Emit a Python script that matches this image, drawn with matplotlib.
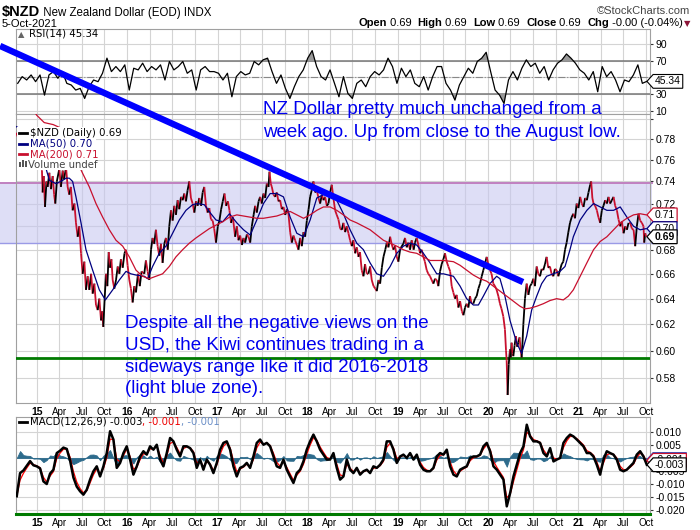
import matplotlib
matplotlib.use('Agg')
import matplotlib.pyplot as plt
import matplotlib.dates as mdates
import matplotlib.transforms as mtransforms
import matplotlib.ticker as mticker
from matplotlib.collections import LineCollection
from matplotlib.patches import Rectangle
from matplotlib.lines import Line2D
from matplotlib.path import Path
import numpy as np
import pandas as pd

plt.rcParams['font.family'] = ['Liberation Sans', 'DejaVu Sans']

# ---------------- data ----------------
price_t = [2014.77, 2014.80, 2014.83, 2014.86, 2014.90, 2014.94, 2014.97, 2015.00, 2015.03, 2015.055,
           2015.063, 2015.075, 2015.089, 2015.105, 2015.118, 2015.137, 2015.155, 2015.174, 2015.190, 2015.203,
           2015.220, 2015.248, 2015.265, 2015.285, 2015.300, 2015.322, 2015.340, 2015.358, 2015.375, 2015.395,
           2015.415, 2015.432, 2015.451, 2015.469, 2015.488, 2015.506, 2015.525, 2015.543, 2015.562, 2015.580,
           2015.600, 2015.617, 2015.636, 2015.654, 2015.673, 2015.691, 2015.710, 2015.722, 2015.735, 2015.750,
           2015.765, 2015.780, 2015.795, 2015.810, 2015.825, 2015.839, 2015.857, 2015.876, 2015.895, 2015.913,
           2015.930, 2015.950, 2015.970, 2015.987, 2016.005, 2016.024, 2016.042, 2016.061, 2016.080, 2016.098,
           2016.120, 2016.140, 2016.160, 2016.190, 2016.208, 2016.227, 2016.245, 2016.265, 2016.282, 2016.300,
           2016.319, 2016.338, 2016.356, 2016.375, 2016.393, 2016.412, 2016.430, 2016.450, 2016.467, 2016.486,
           2016.504, 2016.523, 2016.541, 2016.560, 2016.578, 2016.597, 2016.615, 2016.633, 2016.652, 2016.670,
           2016.689, 2016.707, 2016.726, 2016.745, 2016.763, 2016.781, 2016.800, 2016.820, 2016.837, 2016.855,
           2016.874, 2016.892, 2016.911, 2016.929, 2016.948, 2016.965, 2016.985, 2017.003, 2017.021, 2017.040,
           2017.058, 2017.077, 2017.095, 2017.115, 2017.132, 2017.150, 2017.170, 2017.195, 2017.214, 2017.232,
           2017.251, 2017.270, 2017.288, 2017.306, 2017.325, 2017.343, 2017.362, 2017.380, 2017.400, 2017.417,
           2017.435, 2017.455, 2017.472, 2017.490, 2017.509, 2017.528, 2017.546, 2017.565, 2017.576, 2017.590,
           2017.602, 2017.620, 2017.639, 2017.657, 2017.675, 2017.694, 2017.712, 2017.731, 2017.750, 2017.770,
           2017.786, 2017.805, 2017.823, 2017.842, 2017.860, 2017.879, 2017.897, 2017.915, 2017.934, 2017.953,
           2017.971, 2017.990, 2018.010, 2018.027, 2018.045, 2018.064, 2018.082, 2018.101, 2018.120, 2018.138,
           2018.157, 2018.175, 2018.193, 2018.212, 2018.230, 2018.249, 2018.267, 2018.285, 2018.304, 2018.322,
           2018.341, 2018.360, 2018.378, 2018.396, 2018.415, 2018.433, 2018.452, 2018.470, 2018.489, 2018.507,
           2018.526, 2018.544, 2018.563, 2018.580, 2018.599, 2018.618, 2018.636, 2018.655, 2018.673, 2018.692,
           2018.710, 2018.730, 2018.750, 2018.766, 2018.785, 2018.803, 2018.822, 2018.840, 2018.860, 2018.877,
           2018.895, 2018.914, 2018.930, 2018.950, 2018.969, 2018.988, 2019.006, 2019.025, 2019.043, 2019.061,
           2019.080, 2019.098, 2019.117, 2019.135, 2019.154, 2019.175, 2019.190, 2019.209, 2019.228, 2019.246,
           2019.265, 2019.283, 2019.300, 2019.320, 2019.338, 2019.357, 2019.375, 2019.394, 2019.412, 2019.431,
           2019.449, 2019.468, 2019.486, 2019.505, 2019.523, 2019.542, 2019.560, 2019.580, 2019.597, 2019.615,
           2019.634, 2019.652, 2019.671, 2019.690, 2019.710, 2019.727, 2019.745, 2019.763, 2019.782, 2019.800,
           2019.818, 2019.837, 2019.855, 2019.874, 2019.893, 2019.911, 2019.930, 2019.948, 2019.965, 2019.985,
           2020.003, 2020.022, 2020.040, 2020.059, 2020.078, 2020.096, 2020.115, 2020.133, 2020.150, 2020.170,
           2020.188, 2020.200, 2020.207, 2020.218, 2020.230, 2020.244, 2020.252, 2020.262, 2020.272, 2020.281,
           2020.295, 2020.310, 2020.322, 2020.336, 2020.350, 2020.362, 2020.373, 2020.382, 2020.392, 2020.410,
           2020.429, 2020.448, 2020.466, 2020.484, 2020.503, 2020.520, 2020.540, 2020.558, 2020.577, 2020.595,
           2020.613, 2020.632, 2020.650, 2020.668, 2020.687, 2020.705, 2020.724, 2020.742, 2020.761, 2020.780,
           2020.798, 2020.817, 2020.835, 2020.854, 2020.872, 2020.891, 2020.909, 2020.928, 2020.946, 2020.965,
           2020.983, 2021.000, 2021.020, 2021.038, 2021.057, 2021.075, 2021.094, 2021.112, 2021.131, 2021.142,
           2021.155, 2021.168, 2021.186, 2021.205, 2021.222, 2021.242, 2021.250, 2021.260, 2021.278, 2021.297,
           2021.316, 2021.334, 2021.352, 2021.371, 2021.390, 2021.408, 2021.427, 2021.445, 2021.464, 2021.482,
           2021.501, 2021.520, 2021.538, 2021.556, 2021.575, 2021.593, 2021.612, 2021.630, 2021.648, 2021.667,
           2021.685, 2021.704, 2021.722, 2021.730, 2021.741, 2021.752]
price_v = [0.786, 0.779, 0.776, 0.788, 0.779, 0.785, 0.776, 0.781, 0.762, 0.750,
           0.730, 0.745, 0.717, 0.740, 0.735, 0.748, 0.733, 0.745, 0.728, 0.720,
           0.740, 0.752, 0.735, 0.750, 0.742, 0.753, 0.735, 0.728, 0.735, 0.714,
           0.720, 0.703, 0.691, 0.700, 0.677, 0.660, 0.670, 0.647, 0.658, 0.647,
           0.660, 0.644, 0.652, 0.635, 0.631, 0.640, 0.623, 0.630, 0.618, 0.640,
           0.660, 0.650, 0.678, 0.665, 0.672, 0.655, 0.648, 0.655, 0.666, 0.660,
           0.672, 0.665, 0.677, 0.680, 0.667, 0.655, 0.648, 0.637, 0.650, 0.645,
           0.660, 0.650, 0.662, 0.660, 0.671, 0.662, 0.655, 0.680, 0.690, 0.685,
           0.697, 0.683, 0.675, 0.685, 0.669, 0.685, 0.690, 0.680, 0.700, 0.714,
           0.705, 0.718, 0.710, 0.723, 0.715, 0.726, 0.723, 0.729, 0.722, 0.732,
           0.740, 0.725, 0.720, 0.712, 0.722, 0.718, 0.725, 0.718, 0.730, 0.735,
           0.718, 0.712, 0.716, 0.706, 0.705, 0.698, 0.686, 0.700, 0.705, 0.715,
           0.722, 0.729, 0.718, 0.722, 0.714, 0.703, 0.708, 0.691, 0.700, 0.688,
           0.692, 0.684, 0.690, 0.686, 0.693, 0.691, 0.686, 0.700, 0.710, 0.718,
           0.712, 0.722, 0.726, 0.720, 0.729, 0.725, 0.738, 0.735, 0.749, 0.738,
           0.735, 0.728, 0.726, 0.730, 0.722, 0.723, 0.715, 0.717, 0.710, 0.715,
           0.711, 0.695, 0.686, 0.692, 0.688, 0.684, 0.680, 0.690, 0.683, 0.695,
           0.691, 0.705, 0.715, 0.726, 0.732, 0.740, 0.730, 0.732, 0.725, 0.720,
           0.728, 0.723, 0.726, 0.718, 0.720, 0.730, 0.737, 0.725, 0.714, 0.710,
           0.706, 0.698, 0.697, 0.703, 0.695, 0.700, 0.694, 0.688, 0.683, 0.688,
           0.677, 0.682, 0.674, 0.678, 0.663, 0.658, 0.668, 0.660, 0.660, 0.666,
           0.655, 0.650, 0.648, 0.646, 0.655, 0.652, 0.665, 0.674, 0.680, 0.686,
           0.682, 0.691, 0.685, 0.680, 0.683, 0.674, 0.670, 0.680, 0.683, 0.685,
           0.690, 0.682, 0.686, 0.680, 0.688, 0.680, 0.686, 0.690, 0.684, 0.677,
           0.680, 0.674, 0.670, 0.663, 0.660, 0.658, 0.655, 0.652, 0.656, 0.655,
           0.650, 0.662, 0.668, 0.672, 0.677, 0.670, 0.666, 0.662, 0.650, 0.645,
           0.640, 0.643, 0.633, 0.638, 0.630, 0.627, 0.633, 0.636, 0.633, 0.642,
           0.636, 0.636, 0.640, 0.642, 0.648, 0.652, 0.658, 0.663, 0.668, 0.674,
           0.668, 0.663, 0.660, 0.652, 0.650, 0.647, 0.642, 0.636, 0.632, 0.626,
           0.616, 0.600, 0.593, 0.568, 0.590, 0.601, 0.595, 0.606, 0.598, 0.596,
           0.604, 0.611, 0.603, 0.606, 0.610, 0.601, 0.595, 0.605, 0.620, 0.640,
           0.652, 0.643, 0.650, 0.652, 0.656, 0.650, 0.666, 0.660, 0.658, 0.664,
           0.663, 0.668, 0.674, 0.665, 0.666, 0.660, 0.658, 0.664, 0.663, 0.658,
           0.663, 0.668, 0.670, 0.680, 0.686, 0.695, 0.703, 0.708, 0.711, 0.707,
           0.720, 0.716, 0.726, 0.720, 0.717, 0.725, 0.723, 0.730, 0.737, 0.740,
           0.725, 0.720, 0.718, 0.714, 0.708, 0.703, 0.708, 0.714, 0.718, 0.723,
           0.720, 0.726, 0.720, 0.723, 0.726, 0.718, 0.714, 0.706, 0.700, 0.704,
           0.694, 0.700, 0.697, 0.703, 0.703, 0.698, 0.697, 0.683, 0.700, 0.711,
           0.705, 0.703, 0.700, 0.686, 0.694, 0.691]

ma50_t = [2014.77, 2014.90, 2015.00, 2015.06, 2015.10, 2015.137, 2015.211, 2015.285, 2015.322, 2015.358,
          2015.395, 2015.432, 2015.488, 2015.543, 2015.617, 2015.691, 2015.758, 2015.839, 2015.913, 2015.987,
          2016.042, 2016.098, 2016.190, 2016.227, 2016.282, 2016.356, 2016.430, 2016.504, 2016.578, 2016.652,
          2016.726, 2016.781, 2016.855, 2016.929, 2016.985, 2017.058, 2017.132, 2017.214, 2017.288, 2017.362,
          2017.435, 2017.509, 2017.583, 2017.657, 2017.731, 2017.805, 2017.879, 2017.953, 2018.027, 2018.101,
          2018.175, 2018.249, 2018.322, 2018.396, 2018.470, 2018.544, 2018.618, 2018.692, 2018.766, 2018.840,
          2018.914, 2018.988, 2019.061, 2019.135, 2019.209, 2019.283, 2019.357, 2019.431, 2019.505, 2019.616,
          2019.690, 2019.763, 2019.837, 2019.893, 2019.948, 2020.022, 2020.096, 2020.133, 2020.188, 2020.244,
          2020.318, 2020.373, 2020.429, 2020.484, 2020.540, 2020.595, 2020.650, 2020.724, 2020.798, 2020.854,
          2020.909, 2020.946, 2021.020, 2021.094, 2021.168, 2021.242, 2021.316, 2021.390, 2021.464, 2021.538,
          2021.612, 2021.685, 2021.752]
ma50_v = [0.792, 0.786, 0.781, 0.768, 0.752, 0.741, 0.738, 0.741, 0.743, 0.743,
          0.740, 0.726, 0.703, 0.680, 0.663, 0.647, 0.639, 0.647, 0.655, 0.662,
          0.660, 0.659, 0.658, 0.656, 0.666, 0.677, 0.683, 0.694, 0.7055, 0.714,
          0.719, 0.720, 0.719, 0.711, 0.7055, 0.704, 0.711, 0.703, 0.697, 0.6925,
          0.7055, 0.720, 0.729, 0.729, 0.726, 0.708, 0.694, 0.691, 0.7055, 0.725,
          0.728, 0.729, 0.723, 0.711, 0.697, 0.6855, 0.680, 0.669, 0.660, 0.658,
          0.666, 0.677, 0.683, 0.6855, 0.684, 0.677, 0.669, 0.660, 0.660, 0.658,
          0.650, 0.640, 0.635, 0.635, 0.642, 0.652, 0.658, 0.656, 0.642, 0.623,
          0.606, 0.598, 0.611, 0.631, 0.642, 0.652, 0.658, 0.660, 0.662, 0.666,
          0.680, 0.691, 0.7055, 0.714, 0.720, 0.717, 0.714, 0.714, 0.717, 0.708,
          0.700, 0.697, 0.698]

ma200_t = [2014.77, 2014.90, 2015.00, 2015.08, 2015.18, 2015.28, 2015.37, 2015.469, 2015.506, 2015.580,
           2015.654, 2015.728, 2015.802, 2015.876, 2015.950, 2016.024, 2016.098, 2016.171, 2016.245, 2016.319,
           2016.393, 2016.467, 2016.541, 2016.615, 2016.689, 2016.763, 2016.837, 2016.911, 2016.985, 2017.058,
           2017.132, 2017.214, 2017.288, 2017.362, 2017.435, 2017.509, 2017.583, 2017.657, 2017.731, 2017.805,
           2017.879, 2017.953, 2018.027, 2018.101, 2018.175, 2018.249, 2018.322, 2018.396, 2018.470, 2018.544,
           2018.618, 2018.692, 2018.766, 2018.840, 2018.914, 2018.988, 2019.061, 2019.135, 2019.209, 2019.283,
           2019.357, 2019.431, 2019.505, 2019.616, 2019.690, 2019.763, 2019.837, 2019.911, 2019.985, 2020.059,
           2020.133, 2020.207, 2020.281, 2020.355, 2020.410, 2020.466, 2020.540, 2020.613, 2020.687, 2020.761,
           2020.835, 2020.891, 2020.946, 2021.020, 2021.094, 2021.168, 2021.242, 2021.316, 2021.390, 2021.464,
           2021.538, 2021.612, 2021.685, 2021.752]
ma200_v = [0.835, 0.815, 0.803, 0.796, 0.794, 0.790, 0.775, 0.754, 0.7475, 0.735,
           0.720, 0.708, 0.697, 0.688, 0.683, 0.674, 0.663, 0.658, 0.656, 0.658,
           0.660, 0.666, 0.674, 0.680, 0.6855, 0.690, 0.694, 0.698, 0.701, 0.704,
           0.708, 0.710, 0.709, 0.708, 0.707, 0.707, 0.708, 0.709, 0.711, 0.713,
           0.710, 0.707, 0.710, 0.714, 0.717, 0.717, 0.714, 0.710, 0.7055, 0.703,
           0.700, 0.697, 0.6925, 0.688, 0.6855, 0.683, 0.680, 0.678, 0.677, 0.674,
           0.671, 0.671, 0.671, 0.670, 0.667, 0.663, 0.659, 0.656, 0.654, 0.650,
           0.646, 0.642, 0.638, 0.634, 0.632, 0.6325, 0.634, 0.636, 0.6385, 0.640,
           0.639, 0.642, 0.647, 0.658, 0.669, 0.680, 0.687, 0.691, 0.697, 0.703,
           0.707, 0.710, 0.711, 0.710]

rsi_start, rsi_end = '2014-10-15', '2021-10-05'
rsi_v = [43, 51, 47, 53, 45, 53, 29, 53, 57, 49, 57, 43, 41, 35, 37, 25, 39, 47, 45, 55,
         73, 57, 63, 57, 65, 35, 61, 59, 67, 57, 63, 59, 65, 47, 69, 59, 63, 69, 55, 59,
         35, 59, 63, 57, 57, 55, 47, 55, 27, 51, 57, 53, 55, 69, 65, 71, 73, 57, 43, 53,
         37, 25, 39, 51, 59, 73, 82, 63, 51, 47, 59, 43, 27, 51, 31, 25, 43, 47, 39, 51,
         57, 53, 59, 73, 63, 43, 61, 51, 59, 43, 39, 51, 35, 51, 63, 63, 43, 35, 23, 41,
         51, 61, 55, 69, 73, 80, 57, 35, 29, 19, 47, 57, 47, 61, 71, 63, 67, 55, 63, 47,
         59, 67, 71, 78, 73, 67, 59, 55, 47, 57, 33, 63, 51, 57, 47, 33, 47, 45, 53, 65,
         43, 45.34]

macd_start, macd_end = '2014-10-11', '2021-10-05'
macd_v = [-0.0147, -0.0058, -0.0048, -0.0030, -0.0012, -0.0028, -0.0032, -0.0040, -0.0090, -0.0100,
          -0.0060, -0.0045, 0.0019, 0.0028, 0.0040, 0.0035, -0.0010, -0.0075, -0.0110, -0.0128,
          -0.0141, -0.0122, -0.0083, -0.0051, -0.0032, -0.0071, -0.0032, 0.0019, 0.0103, 0.0071,
          -0.0038, -0.0019, 0.0019, 0.0045, -0.0006, -0.0064, -0.0032, 0.0006, 0.0026, 0.0013,
          0.0045, 0.0032, 0.0051, -0.0006, -0.0032, 0.0019, 0.0077, 0.0064, 0.0032, 0.0006,
          0.0045, 0.0045, 0.0038, 0.0019, -0.0038, -0.0006, -0.0045, -0.0006, -0.0026, -0.0058,
          -0.0019, 0.0032, 0.0058, 0.0064, 0.0032, -0.0032, -0.0071, -0.0038, -0.0032, -0.0019,
          -0.0038, 0.0006, 0.0058, 0.0071, 0.0051, 0.0058, 0.0045, 0.0006, -0.0032, -0.0038,
          -0.0006, -0.0045, -0.0071, -0.0096, -0.0058, -0.0045, -0.0013, 0.0032, 0.0064, 0.0090,
          0.0064, 0.0032, 0.0013, -0.0006, -0.0006, 0.0019, -0.0038, -0.0083, -0.0071, -0.0006,
          -0.0045, -0.0058, -0.0038, -0.0064, -0.0051, -0.0045, -0.0058, -0.0032, -0.0038, -0.0026,
          -0.0006, 0.0064, 0.0064, 0.0032, -0.0019, 0.0006, 0.0013, 0.0000, 0.0019, -0.0006,
          0.0013, -0.0026, -0.0045, -0.0051, -0.0051, -0.0038, 0.0006, 0.0019, 0.0013, 0.0032,
          -0.0032, -0.0064, -0.0071, -0.0045, -0.0038, -0.0032, 0.0000, 0.0006, 0.0006, 0.0013,
          0.0045, 0.0058, 0.0026, -0.0032, -0.0045, -0.0064, -0.0083, -0.0186, -0.0135, -0.0071,
          -0.0026, 0.0019, 0.0045, 0.0128, 0.0083, 0.0064, 0.0064, 0.0058, 0.0019, 0.0006,
          0.0038, -0.0013, -0.0006, 0.0000, 0.0058, 0.0077, 0.0090, 0.0083, 0.0071, 0.0058,
          0.0045, 0.0019, 0.0019, 0.0006, -0.0026, -0.0064, -0.0006, 0.0026, 0.0019, 0.0013,
          -0.0006, -0.0045, -0.0051, -0.0045, -0.0032, -0.0019, 0.0013, 0.0026, 0.0006, -0.0026]

range_low, range_high = 0.686, 0.739      # light blue zone
support_level = 0.5945                     # green line
trend_start = (2014.59, 0.8753)            # hand-drawn trend line end points
trend_end = (2020.388, 0.6533)

price_ticks = [0.58, 0.60, 0.62, 0.64, 0.66, 0.68, 0.70, 0.72, 0.74, 0.76, 0.78, 0.80]
price_tick_labels = ['0.58', '0.60', '0.62', '0.64', '0.66', '0.68', '', '0.72', '0.74', '0.76', '0.78', '']
rsi_ticks = [10, 30, 50, 70, 90]
rsi_tick_labels = ['10', '30', '', '70', '90']
macd_ticks = [-0.020, -0.015, -0.010, -0.005, 0.0, 0.005, 0.010]
macd_tick_labels = ['-0.020', '-0.015', '-0.010', '-0.005', '', '0.005', '0.010']
month_names = {4: 'Apr', 7: 'Jul', 10: 'Oct'}

# ---------------- helpers ----------------
W, H = 700, 530
RED = '#c8102e'
NAVY = '#000080'
BLUE_TXT = '#0000ee'


def yr2num(vals):
    out = []
    for v in vals:
        yi = int(np.floor(v))
        ts = pd.Timestamp(year=yi, month=1, day=1) + pd.Timedelta(days=(v - yi) * 365.25)
        out.append(mdates.date2num(ts))
    return np.array(out)


def fx(px):
    return px / W


def fy(py):
    return 1 - py / H


def axbox(l, t, r, b):
    return [l / W, 1 - b / H, (r - l) / W, (b - t) / H]


def tagbox(x0, y0, width, height, mutation_size):
    pad = mutation_size * 0.18
    x0 -= pad
    y0 -= pad
    width += 2 * pad
    height += 2 * pad
    a = height * 0.45
    verts = [(x0, y0), (x0 + width, y0), (x0 + width, y0 + height), (x0, y0 + height),
             (x0 - a, y0 + height / 2), (x0, y0), (x0, y0)]
    return Path(verts, closed=True)


fig = plt.figure(figsize=(7, 5.3), dpi=100)
ax_r = fig.add_axes(axbox(16, 29, 650, 114))
ax = fig.add_axes(axbox(16, 114, 650, 403))
ax_m = fig.add_axes(axbox(16, 417, 650, 514))

xmin = mdates.date2num(pd.Timestamp('2014-10-08'))
xmax = mdates.date2num(pd.Timestamp('2021-10-18'))
qt = pd.date_range('2015-01-01', '2021-10-01', freq='QS')
qnum = mdates.date2num(qt)
qlab = [f"{d.year % 100:02d}" if d.month == 1 else month_names[d.month] for d in qt]

GRID = '#d4d4d4'
for a in (ax_r, ax, ax_m):
    a.set_xlim(xmin, xmax)
    a.xaxis.set_major_locator(mticker.FixedLocator(qnum))
    a.grid(True, which='major', color=GRID, lw=0.8)
    a.set_axisbelow(True)
    for s in a.spines.values():
        s.set_color('#a0a0a0')
        s.set_linewidth(0.8)
    a.yaxis.tick_right()
    a.tick_params(axis='y', which='both', length=2, width=0.8, color='#333333', pad=2, labelsize=7.5)
    a.tick_params(axis='x', length=0, pad=3, labelsize=7)

ax_r.set_xticklabels([])
for a in (ax, ax_m):
    a.xaxis.set_major_formatter(mticker.FixedFormatter(qlab))
    for lbl in a.get_xticklabels():
        if lbl.get_text().isdigit():
            lbl.set_fontweight('bold')
            lbl.set_fontsize(7.5)

# ---------------- RSI panel ----------------
rsi_x = mdates.date2num(pd.date_range(rsi_start, rsi_end, periods=len(rsi_v)))
rsi = np.array(rsi_v, float)
ax_r.set_ylim(6.5, 107.7)
ax_r.set_yticks(rsi_ticks)
ax_r.set_yticklabels(rsi_tick_labels)
ax_r.axhline(70, color='#777777', lw=1.1, zorder=2)
ax_r.axhline(30, color='#777777', lw=1.1, zorder=2)
ax_r.axhline(50, color='#888888', lw=0.8, ls='-.', zorder=2)
ax_r.fill_between(rsi_x, 70, rsi, where=rsi > 70, interpolate=True, color='#999999', lw=0, zorder=2.5)
ax_r.fill_between(rsi_x, 30, rsi, where=rsi < 30, interpolate=True, color='#999999', lw=0, zorder=2.5)
ax_r.plot(rsi_x, rsi, color='black', lw=0.9, zorder=3)
ax_r.text(fx(18), fy(37), '\u25b2', transform=fig.transFigure, fontsize=6, color='#666666',
          family='DejaVu Sans')
ax_r.text(fx(29), fy(37), f'RSI(14) {rsi_v[-1]:.2f}', transform=fig.transFigure, fontsize=7.3,
          family='DejaVu Sans', color='black')
ax_r.text(1 + 5 / 634, rsi_v[-1], f'{rsi_v[-1]:.2f}', transform=ax_r.get_yaxis_transform(),
          ha='left', va='center', fontsize=7.5, zorder=10, clip_on=False,
          bbox=dict(boxstyle=tagbox, fc='white', ec='black', lw=0.8))

# ---------------- price panel ----------------
ax.set_yscale('log')
ax.set_ylim(0.5624, 0.8045)
ax.yaxis.set_major_locator(mticker.FixedLocator(price_ticks))
ax.yaxis.set_major_formatter(mticker.FixedFormatter(price_tick_labels))
ax.yaxis.set_minor_locator(mticker.NullLocator())

trans_fx_dy = mtransforms.blended_transform_factory(fig.transFigure, ax.transData)
band = Rectangle((0, range_low), fx(652), range_high - range_low, transform=trans_fx_dy,
                 facecolor='#c8c8f0', alpha=0.6, edgecolor='none', zorder=1, clip_on=False)
ax.add_patch(band)
ax.add_line(Line2D([0, fx(652)], [range_high, range_high], transform=trans_fx_dy, color='#c080c0',
                   lw=1.4, zorder=1.2, clip_on=False))
ax.add_line(Line2D([0, fx(652)], [range_low, range_low], transform=trans_fx_dy, color='#9a9ae6',
                   lw=1.0, zorder=1.2, clip_on=False))

ax.axhline(support_level, color='#007a00', lw=2.0, zorder=3)

px = yr2num(price_t)
pv = np.array(price_v)
segs = np.stack([np.column_stack([px[:-1], pv[:-1]]), np.column_stack([px[1:], pv[1:]])], axis=1)
cols = ['black' if b > a_ else RED for a_, b in zip(pv[:-1], pv[1:])]
ax.add_collection(LineCollection(segs, colors=cols, linewidths=1.3, zorder=4))
ax.plot(yr2num(ma50_t), ma50_v, color=NAVY, lw=0.9, zorder=4.5)
ax.plot(yr2num(ma200_t), ma200_v, color=RED, lw=0.9, zorder=4.5)

# legend (opaque, like the original)
ax.add_patch(Rectangle((fx(16.5), fy(170)), fx(96) - fx(16.5), fy(127) - fy(170), transform=fig.transFigure,
                       facecolor='white', edgecolor='none', zorder=5, clip_on=False))
leg = [('$NZD (Daily) 0.69', 'black', 136.5), ('MA(50) 0.70', NAVY, 147), ('MA(200) 0.71', RED, 157.5)]
for txt, c, yb in leg:
    ax.text(fx(30), fy(yb), txt, transform=fig.transFigure, fontsize=7.3, color=c, family='DejaVu Sans',
            zorder=6, bbox=dict(facecolor='white', edgecolor='none', pad=0.3))
    ax.add_line(Line2D([fx(19), fx(27)], [fy(yb - 3.5)] * 2, transform=fig.transFigure, color=c,
                       lw=2.0, zorder=6.5, clip_on=False))
ax.text(fx(28), fy(167.5), 'Volume undef', transform=fig.transFigure, fontsize=7.3, color='#444444',
        family='DejaVu Sans', zorder=6)
for i, h in enumerate([5, 7, 6]):
    ax.add_patch(Rectangle((fx(19 + i * 3), fy(166.5)), fx(2), fy(166.5 - h) - fy(166.5),
                           transform=fig.transFigure, facecolor='#555555', zorder=6, clip_on=False))

# trend line
tx = yr2num([trend_start[0], trend_end[0]])
ax.plot(tx, [trend_start[1], trend_end[1]], color='#0000ff', lw=4.6, solid_capstyle='butt',
        zorder=8, clip_on=False)

# last-value tags
ytr = ax.get_yaxis_transform()
for val, txt, ec, bold, z in [(ma200_v[-1], '0.71', RED, 'normal', 10), (ma50_v[-1], '0.70', NAVY, 'normal', 11),
                              (price_v[-1], '0.69', 'black', 'bold', 12)]:
    ax.text(1 + 5 / 634, val, txt, transform=ytr, ha='left', va='center', fontsize=7.5, fontweight=bold,
            zorder=z, clip_on=False, bbox=dict(boxstyle=tagbox, fc='white', ec=ec, lw=0.9))

# ---------------- MACD panel ----------------
mx = mdates.date2num(pd.date_range(macd_start, macd_end, periods=len(macd_v)))
macd = pd.Series(macd_v)
signal = macd.ewm(alpha=0.7, adjust=False).mean()
hist = macd - signal
ax_m.set_ylim(-0.02154, 0.01577)
ax_m.set_yticks(macd_ticks)
ax_m.set_yticklabels(macd_tick_labels)
ax_m.fill_between(mx, 0, hist.values, color='#2d6b8c', lw=0.6, edgecolor='#2d6b8c', zorder=2)
ax_m.plot(mx, signal.values, color='#ff0000', lw=0.9, zorder=3)
ax_m.plot(mx, macd.values, color='black', lw=1.8, zorder=4)
ax_m.spines['bottom'].set_color('#007a00')
ax_m.spines['bottom'].set_linewidth(2.2)
ytm = ax_m.get_yaxis_transform()
for val, txt, ec, z in [(-0.0006, '-0.001', '#3050c0', 10), (-0.0009, '-0.001', RED, 11),
                        (macd_v[-1], '-0.003', 'black', 12)]:
    ax_m.text(1 + 5 / 634, val, txt, transform=ytm, ha='left', va='center', fontsize=7.5, zorder=z,
              clip_on=False, bbox=dict(boxstyle=tagbox, fc='white', ec=ec, lw=0.9))

fig.canvas.draw()
renderer = fig.canvas.get_renderer()


def rich(x, y, pieces, family='DejaVu Sans', ha='left'):
    if ha == 'left':
        for txt, w, c, size in pieces:
            t = fig.text(fx(x), fy(y), txt, fontsize=size, fontweight=w, color=c, family=family,
                         va='baseline', ha='left')
            x += t.get_window_extent(renderer).width
    else:
        for txt, w, c, size in reversed(pieces):
            t = fig.text(fx(x), fy(y), txt, fontsize=size, fontweight=w, color=c, family=family,
                         va='baseline', ha='right')
            x -= t.get_window_extent(renderer).width


fig.add_artist(Line2D([fx(19), fx(27)], [fy(421.5)] * 2, color='black', lw=2.0))
rich(30, 425, [('MACD(12,26,9) -0.003', 'normal', 'black', 7.3), (', -0.001', 'normal', '#ee0000', 7.3),
               (', -0.001', 'normal', '#6b8fc7', 7.3)])

# header
rich(2, 16, [('$NZD', 'bold', 'black', 10.5), (' New Zealand Dollar (EOD) INDX', 'normal', 'black', 8.3)],
     family='Liberation Sans')
fig.text(fx(2), fy(27), '5-Oct-2021', fontsize=8, va='baseline', family='Liberation Sans')
fig.text(fx(690), fy(14), '\u00a9StockCharts.com', fontsize=8, va='baseline', ha='right', color='#444444',
         family='Liberation Sans')
hdr = [('Open', 'bold'), (' 0.69  ', 'normal'), ('High', 'bold'), (' 0.69  ', 'normal'), ('Low', 'bold'),
       (' 0.69  ', 'normal'), ('Close', 'bold'), (' 0.69  ', 'normal'), ('Chg', 'bold'),
       (' -0.00 (-0.04%)', 'normal')]
rich(683, 26, [(t, w, 'black', 8) for t, w in hdr], family='Liberation Sans', ha='right')
fig.text(fx(684), fy(26), '\u25bc', fontsize=6, va='baseline', color='#8b1538', family='DejaVu Sans')

# annotations
for i, line in enumerate(['NZ Dollar pretty much unchanged from a',
                          'week ago. Up from close to the August low.']):
    fig.text(fx(263), fy(114.5 + i * 22.7), line, fontsize=13.5, color=BLUE_TXT, va='baseline',
             family='Liberation Sans')
for i, line in enumerate(['Despite all the negative views on the',
                          'USD, the Kiwi continues trading in a',
                          'sideways range like it did 2016-2018',
                          '(light blue zone).']):
    fig.text(fx(125), fy(328 + i * 21.8), line, fontsize=13.5, color=BLUE_TXT, va='baseline',
             family='Liberation Sans')

fig.savefig('out.png', dpi=100)
